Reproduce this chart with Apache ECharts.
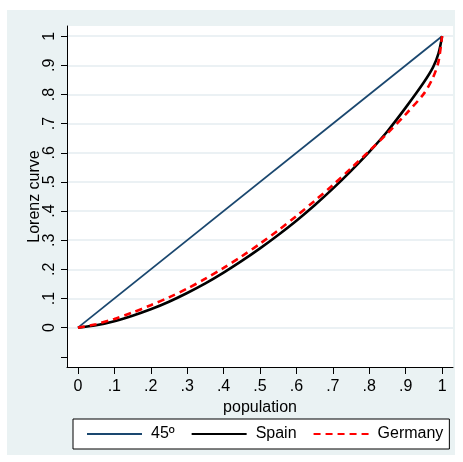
<!DOCTYPE html>
<html>
<head>
    <meta charset="utf-8" />
    <title>Lorenz curve</title>
    <script src="https://cdn.jsdelivr.net/npm/echarts@6/dist/echarts.min.js"></script>
    <style>
        body { margin: 0; background: #fff; }
        #chart { position: absolute; left: 7px; top: 10px; width: 448px; height: 445px; }
    </style>
</head>
<body>
    <div id="chart"></div>
    <script>
        // population share (x) and cumulative income share (y)
        var population = [0, 0.05, 0.1, 0.15, 0.2, 0.25, 0.3, 0.35, 0.4, 0.45, 0.5, 0.55, 0.6, 0.65, 0.7, 0.75, 0.8, 0.85, 0.9, 0.95, 0.975, 0.99, 1];
        var spain   = [0, 0.008, 0.022, 0.041, 0.063, 0.089, 0.119, 0.152, 0.189, 0.229, 0.272, 0.318, 0.367, 0.42, 0.477, 0.538, 0.603, 0.674, 0.755, 0.842, 0.893, 0.94, 1];
        var germany = [0, 0.012, 0.03, 0.052, 0.077, 0.104, 0.134, 0.168, 0.205, 0.245, 0.288, 0.334, 0.383, 0.435, 0.489, 0.547, 0.606, 0.667, 0.732, 0.803, 0.858, 0.912, 1];
        var diagX = [0, 1];
        var diagY = [0, 1];
        var tickValues = [0, 0.1, 0.2, 0.3, 0.4, 0.5, 0.6, 0.7, 0.8, 0.9, 1];
        var yTickValues = [-0.1, 0, 0.1, 0.2, 0.3, 0.4, 0.5, 0.6, 0.7, 0.8, 0.9, 1];

        function pairs( xs, ys ) {
            return xs.map( function ( x, i ) { return [x, ys[i]]; } );
        }
        function fmt( v ) {
            if ( v === 0 ) return '0';
            if ( v === 1 ) return '1';
            return String( Math.round( v * 10 ) / 10 ).replace( /^0/, '' );
        }

        var font = 'Liberation Sans, Arial, sans-serif';
        var chart = echarts.init( document.getElementById( 'chart' ) );
        chart.setOption( {
            animation: false,
            backgroundColor: '#eaf2f3',
            textStyle: { fontFamily: font, color: '#000' },
            grid: {
                left: 60, top: 16, right: 2, bottom: 88,
                show: true, backgroundColor: '#fff', borderWidth: 0
            },
            legend: {
                left: 66, top: 409,
                padding: [7, 6, 7, 13],
                backgroundColor: '#fff',
                borderColor: '#000', borderWidth: 1, borderRadius: 0,
                itemWidth: 55, itemHeight: 14, itemGap: 16,
                itemStyle: { opacity: 0 },
                textStyle: { fontFamily: font, fontSize: 16, color: '#000', padding: [0, 0, 0, 4] },
                data: ['45º', 'Spain', 'Germany']
            },
            xAxis: {
                type: 'value', min: -0.03, max: 1.03,
                name: 'population', nameLocation: 'middle', nameGap: 27,
                nameTextStyle: { fontFamily: font, fontSize: 16, color: '#000' },
                axisLine: { show: true, onZero: false, lineStyle: { color: '#000', width: 1 } },
                axisTick: { show: true, length: 7, customValues: tickValues, lineStyle: { color: '#000' } },
                axisLabel: { customValues: tickValues, formatter: fmt, margin: 12, fontSize: 16, color: '#000', fontFamily: font },
                splitLine: { show: false }
            },
            yAxis: [ {
                type: 'value', min: -0.135, max: 1.035,
                name: 'Lorenz curve', nameLocation: 'middle', nameGap: 24, nameMoveOverlap: false,
                nameTextStyle: { fontFamily: font, fontSize: 16, color: '#000' },
                axisLine: { show: true, onZero: false, lineStyle: { color: '#000', width: 1 } },
                axisTick: { show: true, length: 6, customValues: yTickValues, lineStyle: { color: '#000' } },
                axisLabel: { customValues: tickValues, formatter: fmt, rotate: 90, margin: 9, fontSize: 16, color: '#000', fontFamily: font },
                splitLine: { show: false }
            }, {
                type: 'value', min: -0.135, max: 1.035, position: 'left',
                axisLine: { show: false },
                axisTick: { show: false, customValues: tickValues },
                axisLabel: { show: false, customValues: tickValues },
                splitLine: { show: true, lineStyle: { color: '#e4edf0', width: 1.5 } }
            } ],
            series: [ {
                name: '45º', type: 'line', symbol: 'none', z: 2,
                data: pairs( diagX, diagY ),
                lineStyle: { color: '#1a476f', width: 1.8 }, itemStyle: { color: '#1a476f' }
            }, {
                name: 'Spain', type: 'line', symbol: 'none', smooth: 0.3, z: 3,
                data: pairs( population, spain ),
                lineStyle: { color: '#000', width: 2.6 }, itemStyle: { color: '#000' }
            }, {
                name: 'Germany', type: 'line', symbol: 'none', smooth: 0.3, z: 4,
                data: pairs( population, germany ),
                lineStyle: { color: '#ff0000', width: 2.6, type: [7, 5] }, itemStyle: { color: '#ff0000' }
            } ]
        } );
    </script>
</body>
</html>
